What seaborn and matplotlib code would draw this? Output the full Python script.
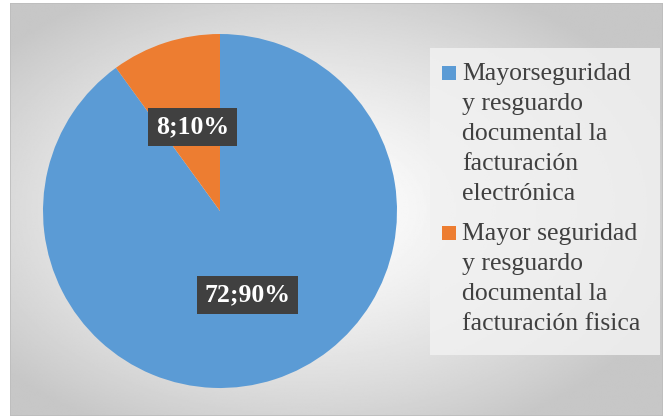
import numpy as np
import matplotlib
matplotlib.use("Agg")
import matplotlib.pyplot as plt
import matplotlib.patches as mpatches
import seaborn as sns

# data
legend_lines = [
    ["Mayorseguridad", "y resguardo", "documental la", "facturación", "electrónica"],
    ["Mayor seguridad", "y resguardo", "documental la", "facturación fisica"],
]
counts = [72, 8]
percents = [90, 10]

sns.set_theme(style="white")
plt.rcParams["font.family"] = "serif"
plt.rcParams["font.serif"] = ["Liberation Serif", "DejaVu Serif"]
colors = sns.color_palette(["#5B9BD5", "#ED7D31"])

W, H = 663, 418
fig = plt.figure(figsize=(W / 100, H / 100), dpi=100)
fig.patch.set_facecolor("white")

# chart area background: soft radial gradient
bg = fig.add_axes([10 / W, 2 / H, 653 / W, 413 / H])
yy, xx = np.mgrid[0:1:300j, 0:1:480j]
r = np.sqrt(((xx - 0.45) / 0.75) ** 2 + ((yy - 0.5) / 0.75) ** 2)
shade = np.clip(1.0 - 0.3 * r ** 1.4, 0.78, 1)
bg.imshow(shade, cmap="gray", vmin=0, vmax=1, aspect="auto",
          extent=(0, 1, 0, 1), interpolation="bilinear")
bg.set_xlim(0, 1)
bg.set_ylim(0, 1)
bg.axis("off")
bg.add_patch(mpatches.Rectangle((0, 0), 1, 1, fill=False,
                                edgecolor="#bdbdbd", linewidth=1.2))

# overlay in pixel coordinates for the legend panel
ov = fig.add_axes([0, 0, 1, 1], zorder=3)
ov.set_xlim(0, W)
ov.set_ylim(H, 0)
ov.axis("off")
ov.add_patch(mpatches.Rectangle((430, 48), 230, 307, facecolor="#f1f1f1",
                                edgecolor="none", alpha=0.85))

# pie
cx, cy, rad = 220, 211, 177
ax = fig.add_axes([(cx - rad) / W, (H - cy - rad) / H, 2 * rad / W, 2 * rad / H],
                  zorder=4)
it = iter(range(len(counts)))


def fmt(pct):
    i = next(it)
    return f"{counts[i]};{percents[i]}%"


wedges, texts, autotexts = ax.pie(
    counts, colors=colors, startangle=90, counterclock=False,
    autopct=fmt, pctdistance=0.5, wedgeprops=dict(linewidth=0),
)
for t in autotexts:
    t.set_color("white")
    t.set_fontsize(18.5)
    t.set_fontweight("bold")
    t.set_bbox(dict(boxstyle="square,pad=0.3", facecolor="#404040",
                    edgecolor="none"))
ax.set_xlim(-1, 1)
ax.set_ylim(-1, 1)
ax.set_aspect("equal")
ax.axis("off")

# legend: colour square beside the first line of each wrapped label
group_top = [80, 240]
for lines, col, y0 in zip(legend_lines, colors, group_top):
    ov.add_patch(mpatches.Rectangle((442, y0 - 14), 13.5, 13.5,
                                    facecolor=col, edgecolor="none"))
    for k, line in enumerate(lines):
        ov.text(462, y0 + 30 * k, line, fontsize=18.5, color="#404040",
                ha="left", va="baseline")

fig.savefig("out.png", dpi=100)
